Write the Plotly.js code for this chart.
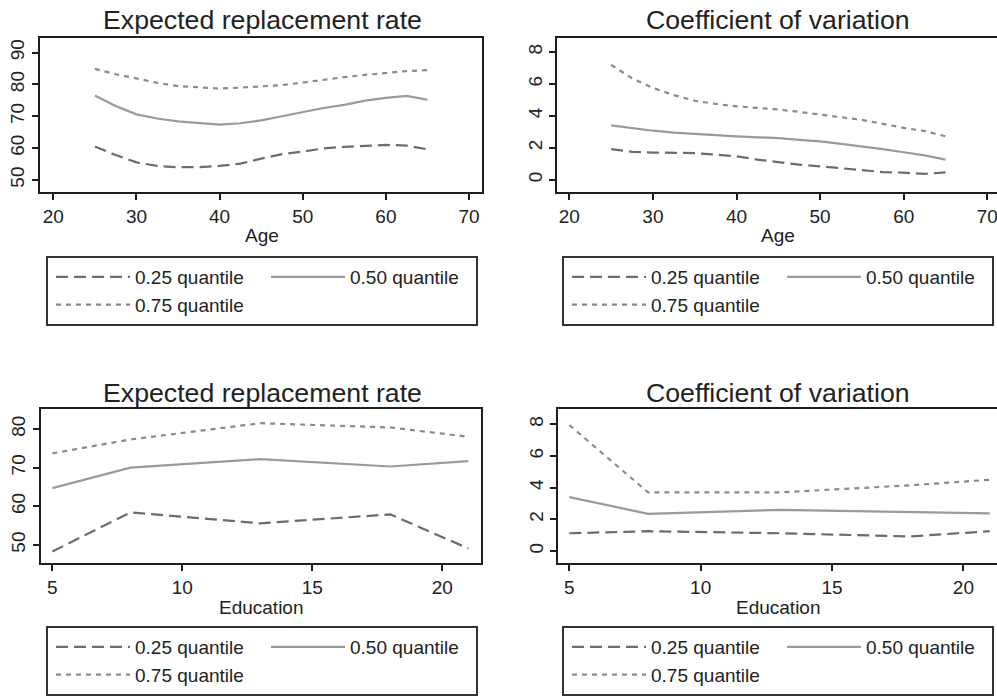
<!DOCTYPE html>
<html>
<head>
<meta charset="utf-8">
<script src="https://cdn.plot.ly/plotly-3.0.1.min.js"></script>
<style>
html, body { margin: 0; padding: 0; overflow: hidden; background: #fff; }
#chart { width: 997px; height: 696px; }
</style>
</head>
<body>
<div id="chart"></div>
<script>
// ---- data ----
var ages = [25, 27.5, 30, 32.5, 35, 37.5, 40, 42.5, 45, 47.5, 50, 52.5, 55, 57.5, 60, 62.5, 65];
var rrAgeQ25 = [60.5, 57.8, 55.5, 54.4, 54.0, 54.0, 54.4, 55.1, 56.7, 58.1, 58.9, 59.9, 60.4, 60.6, 61.0, 60.8, 59.6];
var rrAgeQ50 = [76.5, 73.2, 70.6, 69.3, 68.4, 67.8, 67.4, 67.8, 68.7, 70.0, 71.3, 72.6, 73.6, 74.9, 75.8, 76.4, 75.2];
var rrAgeQ75 = [84.9, 83.2, 81.9, 80.5, 79.5, 79.0, 78.7, 79.0, 79.4, 79.8, 80.6, 81.5, 82.3, 83.0, 83.6, 84.2, 84.5];
var cvAgeQ25 = [1.92, 1.75, 1.70, 1.68, 1.67, 1.57, 1.47, 1.26, 1.11, 0.94, 0.84, 0.73, 0.59, 0.48, 0.44, 0.36, 0.46];
var cvAgeQ50 = [3.41, 3.22, 3.07, 2.95, 2.89, 2.80, 2.72, 2.68, 2.60, 2.50, 2.40, 2.25, 2.09, 1.92, 1.72, 1.52, 1.26];
var cvAgeQ75 = [7.20, 6.35, 5.75, 5.30, 4.95, 4.75, 4.60, 4.50, 4.40, 4.25, 4.08, 3.92, 3.75, 3.50, 3.25, 3.05, 2.72];

var educ = [5, 8, 13, 18, 21];
var rrEduQ25 = [48.3, 58.4, 55.6, 57.9, 49.1];
var rrEduQ50 = [64.7, 70.0, 72.2, 70.3, 71.7];
var rrEduQ75 = [73.7, 77.3, 81.5, 80.4, 78.0];
var cvEduQ25 = [1.12, 1.25, 1.12, 0.92, 1.25];
var cvEduQ50 = [3.40, 2.35, 2.60, 2.48, 2.38];
var cvEduQ75 = [7.96, 3.70, 3.70, 4.15, 4.50];

var seriesNames = ['0.25 quantile', '0.50 quantile', '0.75 quantile'];
var panelTitles = ['Expected replacement rate', 'Coefficient of variation', 'Expected replacement rate', 'Coefficient of variation'];
var xTitles = ['Age', 'Age', 'Education', 'Education'];
var ageTicks = [20, 30, 40, 50, 60, 70];
var eduTicks = [5, 10, 15, 20];
var rrAgeTicks = [50, 60, 70, 80, 90];
var rrEduTicks = [50, 60, 70, 80];
var cvTicks = [0, 2, 4, 6, 8];

// ---- styling ----
var W = 997, H = 696;
var FONT = 'Liberation Sans, Arial, Helvetica, sans-serif';
var styles = [
  {color: '#6c6c6c', dash: '12px,6px', width: 2.2},
  {color: '#9a9a9a', dash: 'solid', width: 2.2},
  {color: '#8a8a8a', dash: '5px,5px', width: 2.2}
];

function px2fx(a, b) { return [a / W, Math.min(1, b / W)]; }
function px2fy(top, bottom) { return [(H - bottom) / H, (H - top) / H]; }

var panels = [
  {x: ages, ys: [rrAgeQ25, rrAgeQ50, rrAgeQ75], xd: px2fx(40, 481.5), yd: px2fy(38, 192), xr: [18.4, 71.5], yr: [46.2, 94.6], xt: ageTicks, yt: rrAgeTicks, right: true},
  {x: ages, ys: [cvAgeQ25, cvAgeQ50, cvAgeQ75], xd: px2fx(557.3, 997), yd: px2fy(38, 192), xr: [18.56, 71.16], yr: [-0.77, 8.88], xt: ageTicks, yt: cvTicks, right: false},
  {x: educ, ys: [rrEduQ25, rrEduQ50, rrEduQ75], xd: px2fx(40.7, 481), yd: px2fy(409.3, 562.7), xr: [4.55, 21.49], yr: [45.4, 85.1], xt: eduTicks, yt: rrEduTicks, right: true},
  {x: educ, ys: [cvEduQ25, cvEduQ50, cvEduQ75], xd: px2fx(558.3, 997), yd: px2fy(409.3, 562.7), xr: [4.58, 21.28], yr: [-0.74, 8.95], xt: eduTicks, yt: cvTicks, right: false}
];

// legend: [left px, top px or null for bottom-anchored]
var legendPos = [[46, 256], [562, 256], [46, null], [562, null]];
var titlePos = [[262, 19.5], [778, 19.5], [262, 393], [778, 393]];
var xTitlePos = [[262, 236], [778, 236], [261, 607], [778, 607]];

var traces = [];
var layout = {
  width: W, height: H,
  margin: {l: 0, r: 0, t: 0, b: 0},
  paper_bgcolor: '#ffffff', plot_bgcolor: '#ffffff',
  font: {family: FONT, size: 19, color: '#222222'},
  showlegend: true,
  annotations: []
};

panels.forEach(function (p, i) {
  var n = i + 1;
  var sfx = (n === 1 ? '' : String(n));
  var lg = 'legend' + sfx;
  var groups = ['g' + n + 'a', 'g' + n + 'b', 'g' + n + 'a'];
  p.ys.forEach(function (yv, k) {
    traces.push({
      type: 'scatter', mode: 'lines',
      x: p.x, y: yv,
      name: seriesNames[k],
      xaxis: 'x' + sfx, yaxis: 'y' + sfx,
      legend: lg, legendgroup: groups[k],
      line: {color: styles[k].color, dash: styles[k].dash, width: styles[k].width},
      hoverinfo: 'x+y+name'
    });
  });
  var axCommon = {
    showline: true, linecolor: '#1e1e1e', linewidth: 2,
    ticks: 'outside', ticklen: 6, tickwidth: 2, tickcolor: '#1e1e1e',
    showgrid: false, zeroline: false, tickfont: {family: FONT, size: 19, color: '#222'},
    ticklabeloverflow: 'allow',
    fixedrange: true
  };
  layout['xaxis' + sfx] = Object.assign({}, axCommon, {
    domain: p.xd, range: p.xr, tickmode: 'array', tickvals: p.xt,
    anchor: 'y' + sfx, mirror: true
  });
  layout['yaxis' + sfx] = Object.assign({}, axCommon, {
    domain: p.yd, range: p.yr, tickmode: 'array', tickvals: p.yt, tickangle: -90,
    anchor: 'x' + sfx, mirror: p.right
  });
  var lp = legendPos[i];
  layout[lg] = {
    x: lp[0] / W,
    y: lp[1] === null ? 0 : (H - lp[1]) / H,
    xref: 'paper', yref: 'paper', xanchor: 'left',
    yanchor: lp[1] === null ? 'bottom' : 'top',
    orientation: 'h', traceorder: 'grouped', tracegroupgap: 0,
    indentation: 5, itemwidth: 74, entrywidth: 121,
    bgcolor: '#ffffff', bordercolor: '#333333', borderwidth: 2,
    font: {family: FONT, size: 19, color: '#222'}
  };
  layout.annotations.push({
    text: panelTitles[i], xref: 'paper', yref: 'paper',
    x: titlePos[i][0] / W, y: (H - titlePos[i][1]) / H,
    xanchor: 'center', yanchor: 'middle', showarrow: false,
    font: {family: FONT, size: 26.7, color: '#222'}
  });
  layout.annotations.push({
    text: xTitles[i], xref: 'paper', yref: 'paper',
    x: xTitlePos[i][0] / W, y: (H - xTitlePos[i][1]) / H,
    xanchor: 'center', yanchor: 'middle', showarrow: false,
    font: {family: FONT, size: 19, color: '#222'}
  });
});

Plotly.newPlot('chart', traces, layout, {displayModeBar: false});
</script>
</body>
</html>
